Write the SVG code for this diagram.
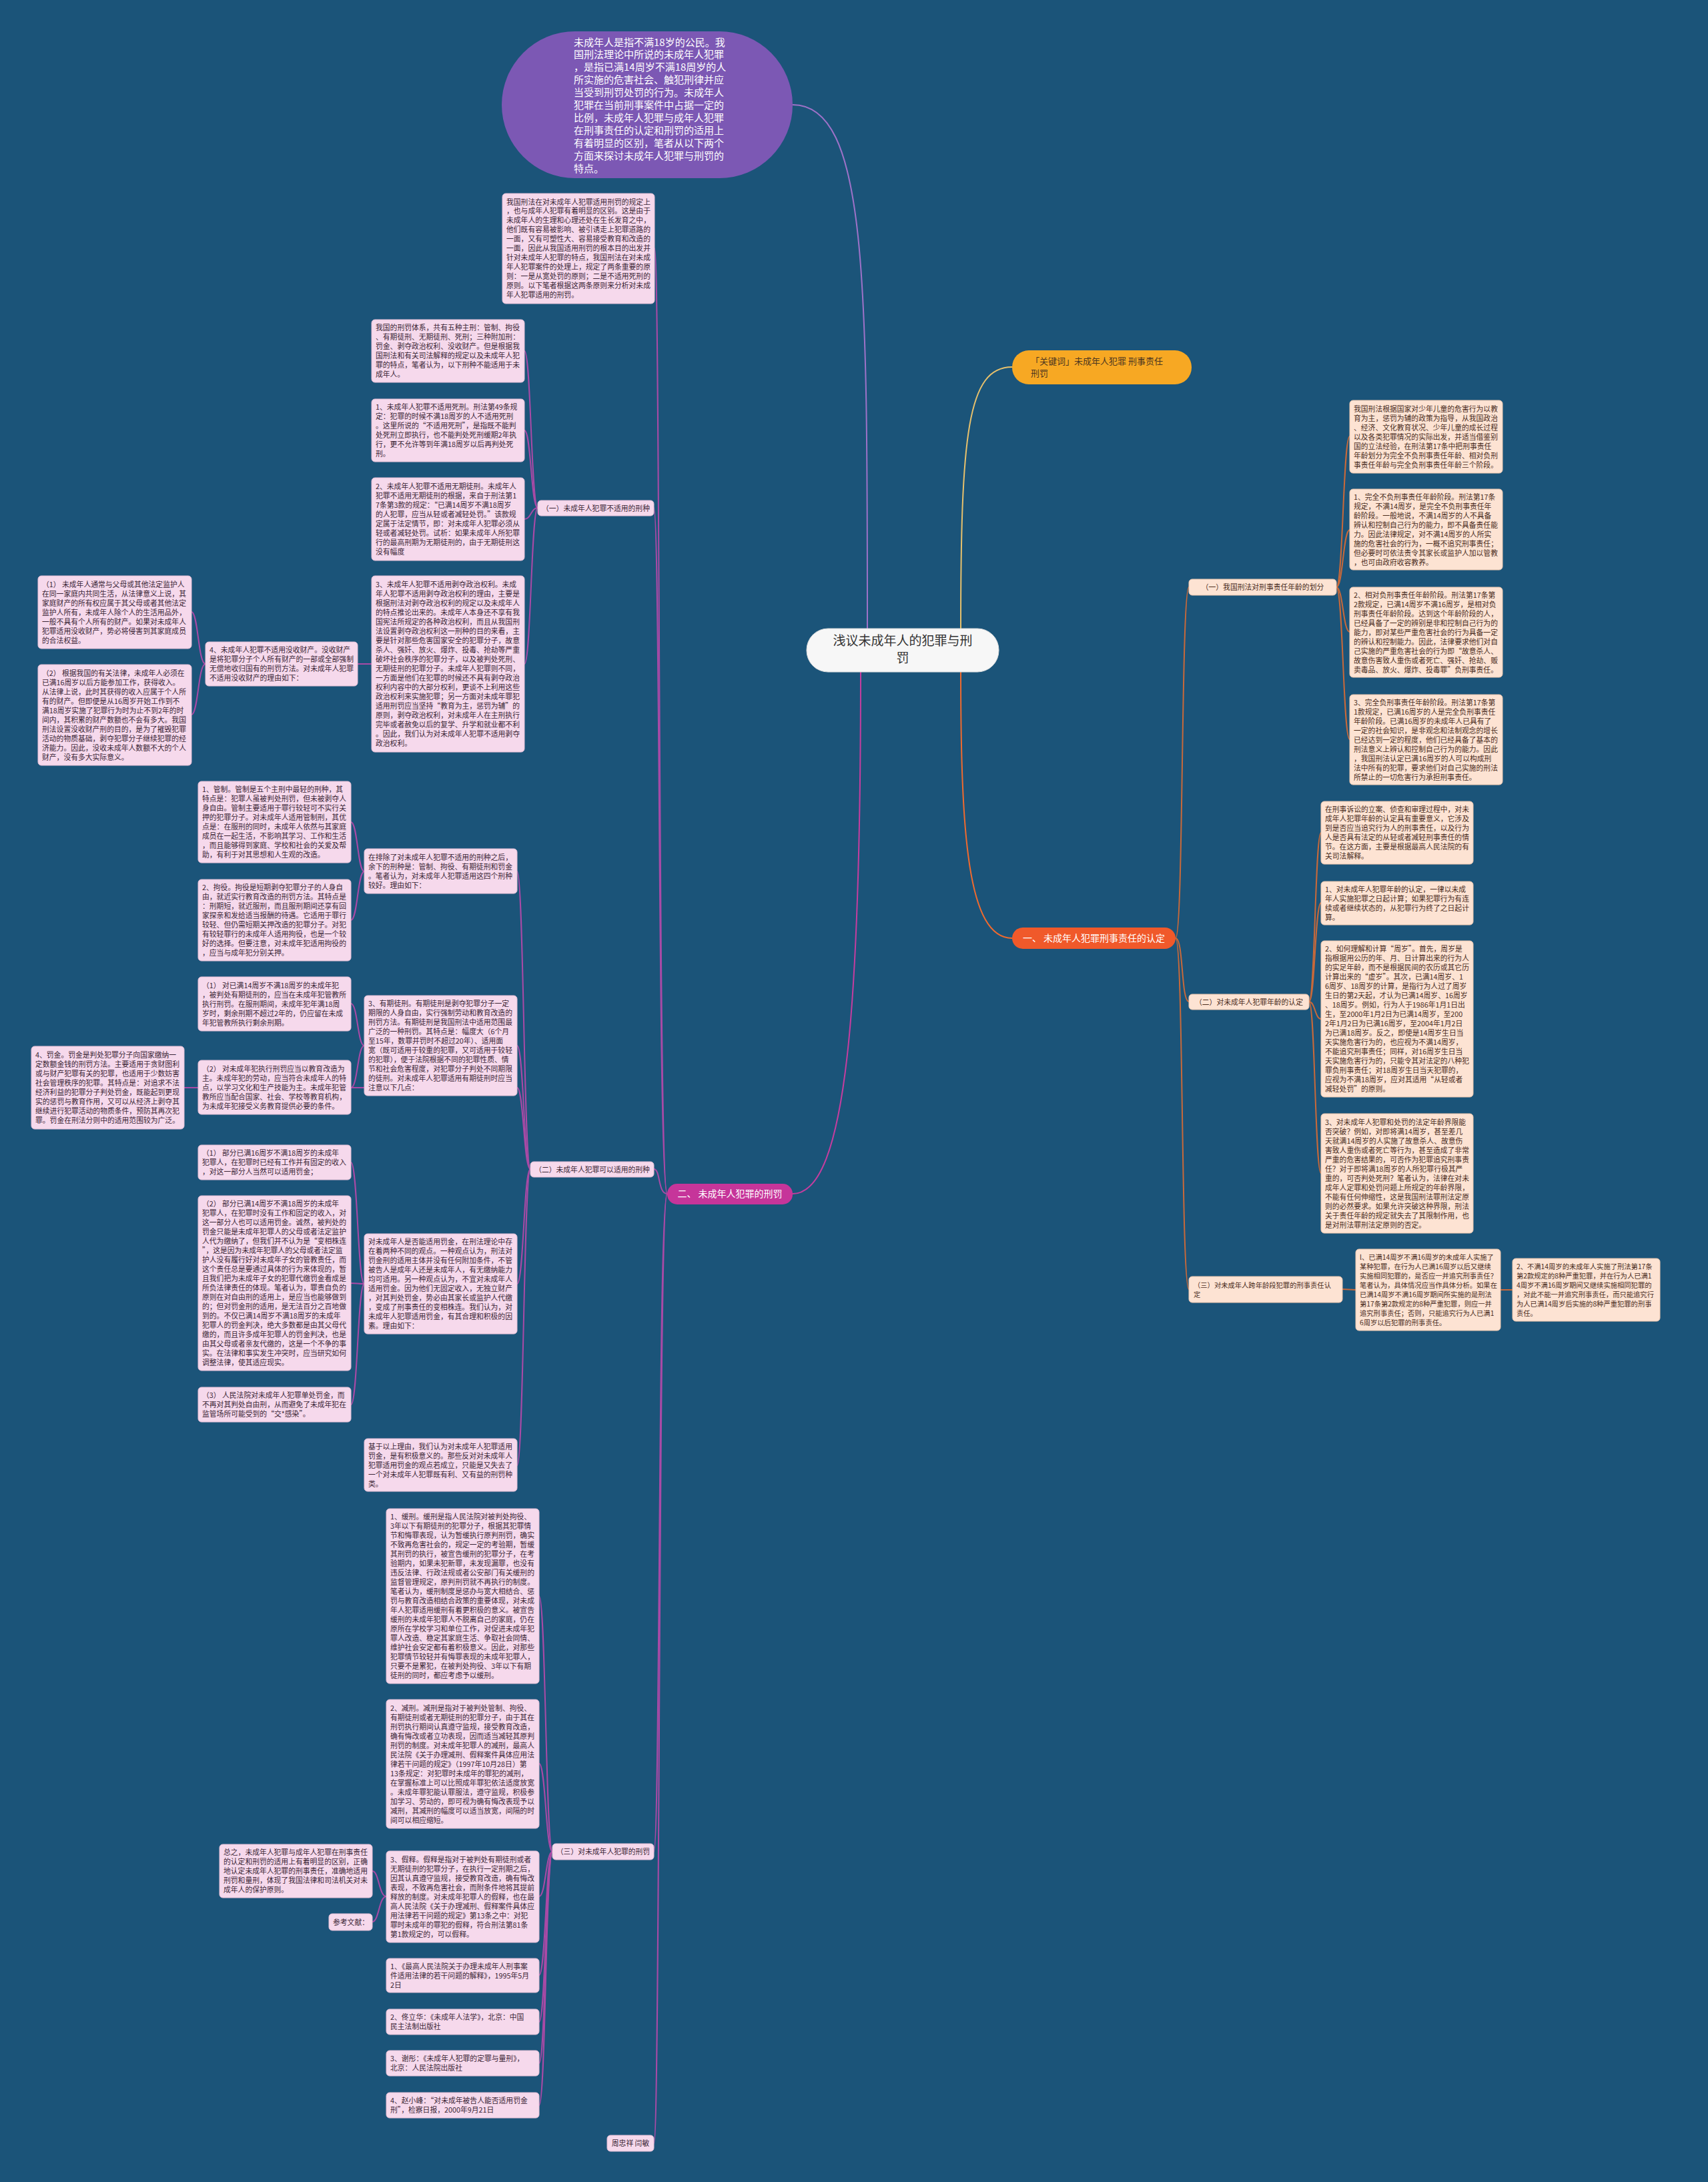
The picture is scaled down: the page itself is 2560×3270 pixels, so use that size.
<svg xmlns="http://www.w3.org/2000/svg" width="2560" height="3270" viewBox="0 0 2560 3270">
<style>
.t{font-family:"Noto Sans CJK SC","Liberation Sans",sans-serif;font-size:10.8px;fill:#3b2636}
.tr{font-family:"Noto Sans CJK SC","Liberation Sans",sans-serif;font-size:10.8px;fill:#4a2c1c}
.ts{font-size:10.3px}
.pk{fill:#f6d9ec;stroke:#e4bfd6;stroke-width:1}
.pc{fill:#fde3d3;stroke:#ecc6ae;stroke-width:1}
.cl{fill:none;stroke:#a94aa6;stroke-width:2}
.cr{fill:none;stroke:#c8693a;stroke-width:2}
</style>
<rect x="0" y="0" width="2560" height="3270" fill="#1b5479"/>
<g id="connectors">
<path d="M1300,945 C1300,420 1300,157 1188,157" fill="none" stroke="#9e72c8" stroke-width="2"/>
<path d="M1440,945 C1440,650 1450,550 1517,550" fill="none" stroke="#e8c16c" stroke-width="2"/>
<path d="M1440,1005 C1440,1250 1450,1406 1517,1406" fill="none" stroke="#f06a2e" stroke-width="2"/>
<path d="M1290,1005 C1290,1500 1270,1789 1188,1789" fill="none" stroke="#c63d9f" stroke-width="2"/>
<path class="cl" d="M1000,1789 C986,1789 990,372 981,372"/>
<path class="cl" d="M1000,1789 C986,1789 990,761 980,761"/>
<path class="cl" d="M1000,1789 C986,1789 990,1752 980,1752"/>
<path class="cl" d="M1000,1789 C986,1789 990,2775 980,2775"/>
<path class="cl" d="M1000,1789 C986,1789 990,3212 980,3212"/>
<path class="cl" d="M806,761 C796,761 796,526 786,526"/>
<path class="cl" d="M806,761 C796,761 796,645 786,645"/>
<path class="cl" d="M806,761 C796,761 796,778 786,778"/>
<path class="cl" d="M806,761 C796,761 796,995 786,995 L536,995"/>
<path class="cl" d="M308,995 C297,995 297,917 287,917"/>
<path class="cl" d="M308,995 C297,995 297,1071 287,1071"/>
<path class="cl" d="M795,1752 C785,1752 785,1306 775,1306"/>
<path class="cl" d="M795,1752 C785,1752 785,1567 775,1567"/>
<path class="cl" d="M795,1752 C785,1752 785,1630 775,1630 L276,1630"/>
<path class="cl" d="M795,1752 C785,1752 785,1924 775,1924"/>
<path class="cl" d="M795,1752 C785,1752 785,2196 775,2196"/>
<path class="cl" d="M546,1306 C536,1306 536,1232 526,1232"/>
<path class="cl" d="M546,1306 C536,1306 536,1379 526,1379"/>
<path class="cl" d="M546,1567 C536,1567 536,1504 526,1504"/>
<path class="cl" d="M546,1567 C536,1567 536,1630 526,1630"/>
<path class="cl" d="M546,1924 C536,1924 536,1742 526,1742"/>
<path class="cl" d="M546,1924 C536,1924 536,1923 526,1923"/>
<path class="cl" d="M546,1924 C536,1924 536,2105 526,2105"/>
<path class="cl" d="M828,2775 C818,2775 818,2392 808,2392"/>
<path class="cl" d="M828,2775 C818,2775 818,2643 808,2643"/>
<path class="cl" d="M828,2775 C818,2775 818,2842 808,2842"/>
<path class="cl" d="M828,2775 C818,2775 818,2960 808,2960"/>
<path class="cl" d="M828,2775 C818,2775 818,3030 808,3030"/>
<path class="cl" d="M828,2775 C818,2775 818,3092 808,3092"/>
<path class="cl" d="M828,2775 C818,2775 818,3155 808,3155"/>
<path class="cl" d="M579,2842 C568,2842 568,2804 558,2804"/>
<path class="cl" d="M579,2842 C568,2842 568,2880 558,2880"/>
<path class="cr" d="M1762,1406 C1774,1406 1770,880 1782,880" stroke="#ef6a2c"/>
<path class="cr" d="M1762,1406 C1774,1406 1770,1501 1782,1501" stroke="#ef6a2c"/>
<path class="cr" d="M1762,1406 C1774,1406 1770,1932 1782,1932" stroke="#ef6a2c"/>
<path class="cr" d="M2003,880 C2013,880 2013,654 2023,654"/>
<path class="cr" d="M2003,880 C2013,880 2013,794 2023,794"/>
<path class="cr" d="M2003,880 C2013,880 2013,947 2023,947"/>
<path class="cr" d="M2003,880 C2013,880 2013,1108 2023,1108"/>
<path class="cr" d="M1962,1501 C1971,1501 1971,1248 1980,1248"/>
<path class="cr" d="M1962,1501 C1971,1501 1971,1353 1980,1353"/>
<path class="cr" d="M1962,1501 C1971,1501 1971,1527 1980,1527"/>
<path class="cr" d="M1962,1501 C1971,1501 1971,1758 1980,1758"/>
<path class="cr" d="M2012,1932 L2032,1933"/>
<path class="cr" d="M2249,1933 L2267,1933"/>
</g>

<g id="center">
<rect x="1209" y="942" width="288" height="65" rx="32" fill="#f7f7f7" stroke="#dddddd"/>
<text x="1353" y="967" text-anchor="middle" font-family="Noto Sans CJK SC,sans-serif" font-size="19" fill="#333"><tspan x="1353">浅议未成年人的犯罪与刑</tspan><tspan x="1353" dy="26">罚</tspan></text>
</g>

<g id="intro-purple">
<rect x="752" y="47" width="436" height="220" rx="110" fill="#7c58b4"/>
<text x="860" y="68.5" font-family="Noto Sans CJK SC,sans-serif" font-size="15" fill="#ffffff"><tspan x="860">未成年人是指不满18岁的公民。我</tspan><tspan x="860" dy="18.9">国刑法理论中所说的未成年人犯罪</tspan><tspan x="860" dy="18.9">，是指已满14周岁不满18周岁的人</tspan><tspan x="860" dy="18.9">所实施的危害社会、触犯刑律并应</tspan><tspan x="860" dy="18.9">当受到刑罚处罚的行为。未成年人</tspan><tspan x="860" dy="18.9">犯罪在当前刑事案件中占据一定的</tspan><tspan x="860" dy="18.9">比例，未成年人犯罪与成年人犯罪</tspan><tspan x="860" dy="18.9">在刑事责任的认定和刑罚的适用上</tspan><tspan x="860" dy="18.9">有着明显的区别，笔者从以下两个</tspan><tspan x="860" dy="18.9">方面来探讨未成年人犯罪与刑罚的</tspan><tspan x="860" dy="18.9">特点。</tspan></text>
</g>

<g id="keyword">
<rect x="1517" y="525" width="269" height="51" rx="25" fill="#f7a823"/>
<text x="1545" y="546" font-family="Noto Sans CJK SC,sans-serif" font-size="13" fill="#4a3520"><tspan x="1545">「关键词」未成年人犯罪 刑事责任</tspan><tspan x="1545" dy="18">刑罚</tspan></text>
</g>

<g id="branch1">
<rect x="1517" y="1390" width="245" height="32" rx="16" fill="#f0592a"/>
<text x="1639.5" y="1411" text-anchor="middle" font-family="Noto Sans CJK SC,sans-serif" font-size="14" fill="#ffffff">一、 未成年人犯罪刑事责任的认定</text>
</g>

<g id="branch2">
<rect x="1000" y="1774" width="188" height="31" rx="15" fill="#c6359a"/>
<text x="1094" y="1794" text-anchor="middle" font-family="Noto Sans CJK SC,sans-serif" font-size="14" fill="#ffffff">二、 未成年人犯罪的刑罚</text>
</g>

<g id="r-label1"><rect class="pc" x="1782" y="868" width="221" height="24" rx="5"/><text class="tr" x="1892.5" y="884" text-anchor="middle">（一）我国刑法对刑事责任年龄的划分</text></g>
<g id="r-label2"><rect class="pc" x="1782" y="1490" width="180" height="23" rx="5"/><text class="tr" x="1872" y="1505.5" text-anchor="middle">（二）对未成年人犯罪年龄的认定</text></g>
<g id="r-label3"><rect class="pc" x="1782" y="1913" width="230" height="39" rx="5"/><text class="tr ts" x="1789" y="1929.5"><tspan x="1789">（三）对未成年人跨年龄段犯罪的刑事责任认</tspan><tspan x="1789" dy="14">定</tspan></text></g>

<g id="p0"><rect class="pc" x="2023" y="600" width="229" height="109" rx="5"/><text class="tr" x="2029" y="616.5"><tspan x="2029">我国刑法根据国家对少年儿童的危害行为以教</tspan><tspan x="2029" dy="14">育为主，惩罚为辅的政策为指导，从我国政治</tspan><tspan x="2029" dy="14">、经济、文化教育状况、少年儿童的成长过程</tspan><tspan x="2029" dy="14">以及各类犯罪情况的实际出发，并适当借鉴别</tspan><tspan x="2029" dy="14">国的立法经验，在刑法第17条中把刑事责任</tspan><tspan x="2029" dy="14">年龄划分为完全不负刑事责任年龄、相对负刑</tspan><tspan x="2029" dy="14">事责任年龄与完全负刑事责任年龄三个阶段。</tspan></text></g>
<g id="p1"><rect class="pc" x="2023" y="733" width="229" height="121" rx="5"/><text class="tr" x="2029" y="748.5"><tspan x="2029">1、完全不负刑事责任年龄阶段。刑法第17条</tspan><tspan x="2029" dy="14">规定，不满14周岁，是完全不负刑事责任年</tspan><tspan x="2029" dy="14">龄阶段。一般地说，不满14周岁的人不具备</tspan><tspan x="2029" dy="14">辨认和控制自己行为的能力，即不具备责任能</tspan><tspan x="2029" dy="14">力。因此法律规定，对不满14周岁的人所实</tspan><tspan x="2029" dy="14">施的危害社会的行为，一概不追究刑事责任；</tspan><tspan x="2029" dy="14">但必要时可依法责令其家长或监护人加以管教</tspan><tspan x="2029" dy="14">，也可由政府收容教养。</tspan></text></g>
<g id="p2"><rect class="pc" x="2023" y="880" width="229" height="135" rx="5"/><text class="tr" x="2029" y="895.5"><tspan x="2029">2、相对负刑事责任年龄阶段。刑法第17条第</tspan><tspan x="2029" dy="14">2款规定，已满14周岁不满16周岁，是相对负</tspan><tspan x="2029" dy="14">刑事责任年龄阶段。达到这个年龄阶段的人，</tspan><tspan x="2029" dy="14">已经具备了一定的辨别是非和控制自己行为的</tspan><tspan x="2029" dy="14">能力，即对某些严重危害社会的行为具备一定</tspan><tspan x="2029" dy="14">的辨认和控制能力。因此，法律要求他们对自</tspan><tspan x="2029" dy="14">己实施的严重危害社会的行为即“故意杀人、</tspan><tspan x="2029" dy="14">故意伤害致人重伤或者死亡、强奸、抢劫、贩</tspan><tspan x="2029" dy="14">卖毒品、放火、爆炸、投毒罪”负刑事责任。</tspan></text></g>
<g id="p3"><rect class="pc" x="2023" y="1041" width="229" height="135" rx="5"/><text class="tr" x="2029" y="1056.5"><tspan x="2029">3、完全负刑事责任年龄阶段。刑法第17条第</tspan><tspan x="2029" dy="14">1款规定，已满16周岁的人是完全负刑事责任</tspan><tspan x="2029" dy="14">年龄阶段。已满16周岁的未成年人已具有了</tspan><tspan x="2029" dy="14">一定的社会知识，是非观念和法制观念的增长</tspan><tspan x="2029" dy="14">已经达到一定的程度，他们已经具备了基本的</tspan><tspan x="2029" dy="14">刑法意义上辨认和控制自己行为的能力。因此</tspan><tspan x="2029" dy="14">，我国刑法认定已满16周岁的人可以构成刑</tspan><tspan x="2029" dy="14">法中所有的犯罪，要求他们对自己实施的刑法</tspan><tspan x="2029" dy="14">所禁止的一切危害行为承担刑事责任。</tspan></text></g>

<g id="q0"><rect class="pc" x="1980" y="1201" width="228" height="94" rx="5"/><text class="tr" x="1986" y="1217"><tspan x="1986">在刑事诉讼的立案、侦查和审理过程中，对未</tspan><tspan x="1986" dy="14">成年人犯罪年龄的认定具有重要意义，它涉及</tspan><tspan x="1986" dy="14">到是否应当追究行为人的刑事责任，以及行为</tspan><tspan x="1986" dy="14">人是否具有法定的从轻或者减轻刑事责任的情</tspan><tspan x="1986" dy="14">节。在这方面，主要是根据最高人民法院的有</tspan><tspan x="1986" dy="14">关司法解释。</tspan></text></g>
<g id="q1"><rect class="pc" x="1980" y="1321" width="228" height="65" rx="5"/><text class="tr" x="1986" y="1336.5"><tspan x="1986">1、对未成年人犯罪年龄的认定，一律以未成</tspan><tspan x="1986" dy="14">年人实施犯罪之日起计算；如果犯罪行为有连</tspan><tspan x="1986" dy="14">续或者继续状态的，从犯罪行为终了之日起计</tspan><tspan x="1986" dy="14">算。</tspan></text></g>
<g id="q2"><rect class="pc" x="1980" y="1410" width="228" height="234" rx="5"/><text class="tr" x="1986" y="1426"><tspan x="1986">2、如何理解和计算“周岁”。首先，周岁是</tspan><tspan x="1986" dy="14">指根据用公历的年、月、日计算出来的行为人</tspan><tspan x="1986" dy="14">的实足年龄，而不是根据民间的农历或其它历</tspan><tspan x="1986" dy="14">计算出来的“虚岁”。其次，已满14周岁、1</tspan><tspan x="1986" dy="14">6周岁、18周岁的计算，是指行为人过了周岁</tspan><tspan x="1986" dy="14">生日的第2天起，才认为已满14周岁、16周岁</tspan><tspan x="1986" dy="14">、18周岁。例如，行为人于1986年1月1日出</tspan><tspan x="1986" dy="14">生，至2000年1月2日为已满14周岁，至200</tspan><tspan x="1986" dy="14">2年1月2日为已满16周岁，至2004年1月2日</tspan><tspan x="1986" dy="14">为已满18周岁。反之，即使是14周岁生日当</tspan><tspan x="1986" dy="14">天实施危害行为的，也应视为不满14周岁，</tspan><tspan x="1986" dy="14">不能追究刑事责任；同样，对16周岁生日当</tspan><tspan x="1986" dy="14">天实施危害行为的，只能令其对法定的八种犯</tspan><tspan x="1986" dy="14">罪负刑事责任；对18周岁生日当天犯罪的，</tspan><tspan x="1986" dy="14">应视为不满18周岁，应对其适用“从轻或者</tspan><tspan x="1986" dy="14">减轻处罚”的原则。</tspan></text></g>
<g id="q3"><rect class="pc" x="1980" y="1669" width="228" height="179" rx="5"/><text class="tr" x="1986" y="1685.5"><tspan x="1986">3、对未成年人犯罪和处罚的法定年龄界限能</tspan><tspan x="1986" dy="14">否突破？例如，对即将满14周岁，甚至差几</tspan><tspan x="1986" dy="14">天就满14周岁的人实施了故意杀人、故意伤</tspan><tspan x="1986" dy="14">害致人重伤或者死亡等行为，甚至造成了非常</tspan><tspan x="1986" dy="14">严重的危害结果的，可否作为犯罪追究刑事责</tspan><tspan x="1986" dy="14">任？对于即将满18周岁的人所犯罪行极其严</tspan><tspan x="1986" dy="14">重的，可否判处死刑？笔者认为，法律在对未</tspan><tspan x="1986" dy="14">成年人定罪和处罚问题上所规定的年龄界限，</tspan><tspan x="1986" dy="14">不能有任何伸缩性，这是我国刑法罪刑法定原</tspan><tspan x="1986" dy="14">则的必然要求。如果允许突破这种界限，刑法</tspan><tspan x="1986" dy="14">关于责任年龄的规定就失去了其限制作用，也</tspan><tspan x="1986" dy="14">是对刑法罪刑法定原则的否定。</tspan></text></g>

<g id="r1"><rect class="pc" x="2032" y="1872" width="217" height="122" rx="5"/><text class="tr ts" x="2038" y="1888"><tspan x="2038">l、已满14周岁不满16周岁的未成年人实施了</tspan><tspan x="2038" dy="14">某种犯罪，在行为人已满16周岁以后又继续</tspan><tspan x="2038" dy="14">实施相同犯罪的，是否应一并追究刑事责任？</tspan><tspan x="2038" dy="14">笔者认为，具体情况应当作具体分析。如果在</tspan><tspan x="2038" dy="14">已满14周岁不满16周岁期间所实施的是刑法</tspan><tspan x="2038" dy="14">第17条第2款规定的8种严重犯罪，则应一并</tspan><tspan x="2038" dy="14">追究刑事责任；否则，只能追究行为人已满1</tspan><tspan x="2038" dy="14">6周岁以后犯罪的刑事责任。</tspan></text></g>
<g id="r2"><rect class="pc" x="2267" y="1886" width="221" height="94" rx="5"/><text class="tr ts" x="2273" y="1902"><tspan x="2273">2、不满14周岁的未成年人实施了刑法第17条</tspan><tspan x="2273" dy="14">第2款规定的8种严重犯罪，并在行为人已满1</tspan><tspan x="2273" dy="14">4周岁不满16周岁期间又继续实施相同犯罪的</tspan><tspan x="2273" dy="14">，对此不能一并追究刑事责任，而只能追究行</tspan><tspan x="2273" dy="14">为人已满14周岁后实施的8种严重犯罪的刑事</tspan><tspan x="2273" dy="14">责任。</tspan></text></g>

<g id="intro"><rect class="pk" x="753" y="290" width="228" height="165" rx="5"/><text class="t" x="759" y="306.5"><tspan x="759">我国刑法在对未成年人犯罪适用刑罚的规定上</tspan><tspan x="759" dy="13.9">，也与成年人犯罪有着明显的区别。这是由于</tspan><tspan x="759" dy="13.9">未成年人的生理和心理还处在生长发育之中，</tspan><tspan x="759" dy="13.9">他们既有容易被影响、被引诱走上犯罪道路的</tspan><tspan x="759" dy="13.9">一面，又有可塑性大、容易接受教育和改造的</tspan><tspan x="759" dy="13.9">一面，因此从我国适用刑罚的根本目的出发并</tspan><tspan x="759" dy="13.9">针对未成年人犯罪的特点，我国刑法在对未成</tspan><tspan x="759" dy="13.9">年人犯罪案件的处理上，规定了两条重要的原</tspan><tspan x="759" dy="13.9">则：一是从宽处罚的原则；二是不适用死刑的</tspan><tspan x="759" dy="13.9">原则。以下笔者根据这两条原则来分析对未成</tspan><tspan x="759" dy="13.9">年人犯罪适用的刑罚。</tspan></text></g>

<g id="l-label1"><rect class="pk" x="806" y="750" width="174" height="23" rx="5"/><text class="t" x="893" y="765.5" text-anchor="middle">（一）未成年人犯罪不适用的刑种</text></g>
<g id="l-label2"><rect class="pk" x="795" y="1741" width="185" height="23" rx="5"/><text class="t" x="887.5" y="1756.5" text-anchor="middle">（二）未成年人犯罪可以适用的刑种</text></g>
<g id="l-label3"><rect class="pk" x="828" y="2763" width="152" height="24" rx="5"/><text class="t" x="904" y="2779" text-anchor="middle">（三）对未成年人犯罪的刑罚</text></g>
<g id="author"><rect class="pk" x="910" y="3200" width="70" height="24" rx="5"/><text class="t" x="945" y="3216" text-anchor="middle">周忠祥 闫敏</text></g>

<g id="a0"><rect class="pk" x="557" y="479" width="229" height="94" rx="5"/><text class="t" x="563" y="495"><tspan x="563">我国的刑罚体系，共有五种主刑：管制、拘役</tspan><tspan x="563" dy="14">、有期徒刑、无期徒刑、死刑；三种附加刑：</tspan><tspan x="563" dy="14">罚金、剥夺政治权利、没收财产。但是根据我</tspan><tspan x="563" dy="14">国刑法和有关司法解释的规定以及未成年人犯</tspan><tspan x="563" dy="14">罪的特点，笔者认为，以下刑种不能适用于未</tspan><tspan x="563" dy="14">成年人。</tspan></text></g>
<g id="a1"><rect class="pk" x="557" y="598" width="229" height="94" rx="5"/><text class="t" x="563" y="614"><tspan x="563">1、未成年人犯罪不适用死刑。刑法第49条规</tspan><tspan x="563" dy="14">定：犯罪的时候不满18周岁的人不适用死刑</tspan><tspan x="563" dy="14">。这里所说的“不适用死刑”，是指既不能判</tspan><tspan x="563" dy="14">处死刑立即执行，也不能判处死刑缓期2年执</tspan><tspan x="563" dy="14">行，更不允许等到年满18周岁以后再判处死</tspan><tspan x="563" dy="14">刑。</tspan></text></g>
<g id="a2"><rect class="pk" x="557" y="716" width="229" height="124" rx="5"/><text class="t" x="563" y="733"><tspan x="563">2、未成年人犯罪不适用无期徒刑。未成年人</tspan><tspan x="563" dy="14">犯罪不适用无期徒刑的根据，来自于刑法第1</tspan><tspan x="563" dy="14">7条第3款的规定：“已满14周岁不满18周岁</tspan><tspan x="563" dy="14">的人犯罪，应当从轻或者减轻处罚。”该款规</tspan><tspan x="563" dy="14">定属于法定情节，即：对未成年人犯罪必须从</tspan><tspan x="563" dy="14">轻或者减轻处罚。试析：如果未成年人所犯罪</tspan><tspan x="563" dy="14">行的最高刑期为无期徒刑的，由于无期徒刑这</tspan><tspan x="563" dy="14">没有幅度</tspan></text></g>
<g id="a3"><rect class="pk" x="557" y="863" width="229" height="264" rx="5"/><text class="t" x="563" y="880"><tspan x="563">3、未成年人犯罪不适用剥夺政治权利。未成</tspan><tspan x="563" dy="14">年人犯罪不适用剥夺政治权利的理由，主要是</tspan><tspan x="563" dy="14">根据刑法对剥夺政治权利的规定以及未成年人</tspan><tspan x="563" dy="14">的特点推论出来的。未成年人本身还不享有我</tspan><tspan x="563" dy="14">国宪法所规定的各种政治权利，而且从我国刑</tspan><tspan x="563" dy="14">法设置剥夺政治权利这一刑种的目的来看，主</tspan><tspan x="563" dy="14">要是针对那些危害国家安全的犯罪分子，故意</tspan><tspan x="563" dy="14">杀人、强奸、放火、爆炸、投毒、抢劫等严重</tspan><tspan x="563" dy="14">破坏社会秩序的犯罪分子，以及被判处死刑、</tspan><tspan x="563" dy="14">无期徒刑的犯罪分子。未成年人犯罪则不同，</tspan><tspan x="563" dy="14">一方面是他们在犯罪的时候还不具有剥夺政治</tspan><tspan x="563" dy="14">权利内容中的大部分权利，更谈不上利用这些</tspan><tspan x="563" dy="14">政治权利来实施犯罪；另一方面对未成年罪犯</tspan><tspan x="563" dy="14">适用刑罚应当坚持“教育为主，惩罚为辅”的</tspan><tspan x="563" dy="14">原则，剥夺政治权利，对未成年人在主刑执行</tspan><tspan x="563" dy="14">完毕或者赦免以后的复学、升学和就业都不利</tspan><tspan x="563" dy="14">。因此，我们认为对未成年人犯罪不适用剥夺</tspan><tspan x="563" dy="14">政治权利。</tspan></text></g>
<g id="a4"><rect class="pk" x="308" y="962" width="228" height="66" rx="5"/><text class="t" x="314" y="978"><tspan x="314">4、未成年人犯罪不适用没收财产。没收财产</tspan><tspan x="314" dy="14">是将犯罪分子个人所有财产的一部或全部强制</tspan><tspan x="314" dy="14">无偿地收归国有的刑罚方法。对未成年人犯罪</tspan><tspan x="314" dy="14">不适用没收财产的理由如下：</tspan></text></g>
<g id="a4-1"><rect class="pk" x="57" y="863" width="230" height="109" rx="5"/><text class="t" x="63" y="879.5"><tspan x="63">（1） 未成年人通常与父母或其他法定监护人</tspan><tspan x="63" dy="14">在同一家庭内共同生活，从法律意义上说，其</tspan><tspan x="63" dy="14">家庭财产的所有权应属于其父母或者其他法定</tspan><tspan x="63" dy="14">监护人所有，未成年人除个人的生活用品外，</tspan><tspan x="63" dy="14">一般不具有个人所有的财产。如果对未成年人</tspan><tspan x="63" dy="14">犯罪适用没收财产，势必将侵害到其家庭成员</tspan><tspan x="63" dy="14">的合法权益。</tspan></text></g>
<g id="a4-2"><rect class="pk" x="57" y="996" width="230" height="151" rx="5"/><text class="t" x="63" y="1012.5"><tspan x="63">（2） 根据我国的有关法律，未成年人必须在</tspan><tspan x="63" dy="14">已满16周岁以后方能参加工作，获得收入。</tspan><tspan x="63" dy="14">从法律上说，此时其获得的收入应属于个人所</tspan><tspan x="63" dy="14">有的财产。但即便是从16周岁开始工作到不</tspan><tspan x="63" dy="14">满18周岁实施了犯罪行为时为止不到2年的时</tspan><tspan x="63" dy="14">间内，其积累的财产数额也不会有多大。我国</tspan><tspan x="63" dy="14">刑法设置没收财产刑的目的，是为了摧毁犯罪</tspan><tspan x="63" dy="14">活动的物质基础，剥夺犯罪分子继续犯罪的经</tspan><tspan x="63" dy="14">济能力。因此，没收未成年人数额不大的个人</tspan><tspan x="63" dy="14">财产，没有多大实际意义。</tspan></text></g>

<g id="b0"><rect class="pk" x="546" y="1272" width="229" height="67" rx="5"/><text class="t" x="552" y="1288.5"><tspan x="552">在排除了对未成年人犯罪不适用的刑种之后，</tspan><tspan x="552" dy="14">余下的刑种是：管制、拘役、有期徒刑和罚金</tspan><tspan x="552" dy="14">。笔者认为，对未成年人犯罪适用这四个刑种</tspan><tspan x="552" dy="14">较好。理由如下：</tspan></text></g>
<g id="b1"><rect class="pk" x="297" y="1171" width="229" height="122" rx="5"/><text class="t" x="303" y="1187"><tspan x="303">1、管制。管制是五个主刑中最轻的刑种，其</tspan><tspan x="303" dy="14">特点是：犯罪人虽被判处刑罚，但未被剥夺人</tspan><tspan x="303" dy="14">身自由。管制主要适用于罪行较轻可不实行关</tspan><tspan x="303" dy="14">押的犯罪分子。对未成年人适用管制刑，其优</tspan><tspan x="303" dy="14">点是：在服刑的同时，未成年人依然与其家庭</tspan><tspan x="303" dy="14">成员在一起生活，不影响其学习、工作和生活</tspan><tspan x="303" dy="14">，而且能够得到家庭、学校和社会的关爱及帮</tspan><tspan x="303" dy="14">助，有利于对其思想和人生观的改造。</tspan></text></g>
<g id="b2"><rect class="pk" x="297" y="1318" width="229" height="122" rx="5"/><text class="t" x="303" y="1334"><tspan x="303">2、拘役。拘役是短期剥夺犯罪分子的人身自</tspan><tspan x="303" dy="14">由，就近实行教育改造的刑罚方法。其特点是</tspan><tspan x="303" dy="14">：刑期短，就近服刑，而且服刑期间还享有回</tspan><tspan x="303" dy="14">家探亲和发给适当报酬的待遇。它适用于罪行</tspan><tspan x="303" dy="14">较轻、但仍需短期关押改造的犯罪分子。对犯</tspan><tspan x="303" dy="14">有较轻罪行的未成年人适用拘役，也是一个较</tspan><tspan x="303" dy="14">好的选择。但要注意，对未成年犯适用拘役的</tspan><tspan x="303" dy="14">，应当与成年犯分别关押。</tspan></text></g>
<g id="b3"><rect class="pk" x="546" y="1492" width="229" height="150" rx="5"/><text class="t" x="552" y="1508"><tspan x="552">3、有期徒刑。有期徒刑是剥夺犯罪分子一定</tspan><tspan x="552" dy="14">期限的人身自由，实行强制劳动和教育改造的</tspan><tspan x="552" dy="14">刑罚方法。有期徒刑是我国刑法中适用范围最</tspan><tspan x="552" dy="14">广泛的一种刑罚。其特点是：幅度大（6个月</tspan><tspan x="552" dy="14">至15年，数罪并罚时不超过20年）、适用面</tspan><tspan x="552" dy="14">宽（既可适用于较重的犯罪，又可适用于较轻</tspan><tspan x="552" dy="14">的犯罪），便于法院根据不同的犯罪性质、情</tspan><tspan x="552" dy="14">节和社会危害程度，对犯罪分子判处不同期限</tspan><tspan x="552" dy="14">的徒刑。对未成年人犯罪适用有期徒刑时应当</tspan><tspan x="552" dy="14">注意以下几点：</tspan></text></g>
<g id="b3-1"><rect class="pk" x="297" y="1464" width="229" height="81" rx="5"/><text class="t" x="303" y="1480.5"><tspan x="303">（1） 对已满14周岁不满18周岁的未成年犯</tspan><tspan x="303" dy="14">，被判处有期徒刑的，应当在未成年犯管教所</tspan><tspan x="303" dy="14">执行刑罚。在服刑期间，未成年犯年满18周</tspan><tspan x="303" dy="14">岁时，剩余刑期不超过2年的，仍应留在未成</tspan><tspan x="303" dy="14">年犯管教所执行剩余刑期。</tspan></text></g>
<g id="b3-2"><rect class="pk" x="297" y="1589" width="229" height="81" rx="5"/><text class="t" x="303" y="1605.5"><tspan x="303">（2） 对未成年犯执行刑罚应当以教育改造为</tspan><tspan x="303" dy="14">主。未成年犯的劳动，应当符合未成年人的特</tspan><tspan x="303" dy="14">点，以学习文化和生产技能为主。未成年犯管</tspan><tspan x="303" dy="14">教所应当配合国家、社会、学校等教育机构，</tspan><tspan x="303" dy="14">为未成年犯接受义务教育提供必要的条件。</tspan></text></g>
<g id="b4"><rect class="pk" x="47" y="1568" width="229" height="124" rx="5"/><text class="t" x="53" y="1585"><tspan x="53">4、罚金。罚金是判处犯罪分子向国家缴纳一</tspan><tspan x="53" dy="14">定数额金钱的刑罚方法。主要适用于贪财图利</tspan><tspan x="53" dy="14">或与财产犯罪有关的犯罪，也适用于少数妨害</tspan><tspan x="53" dy="14">社会管理秩序的犯罪。其特点是：对追求不法</tspan><tspan x="53" dy="14">经济利益的犯罪分子判处罚金，既能起到更现</tspan><tspan x="53" dy="14">实的惩罚与教育作用，又可以从经济上剥夺其</tspan><tspan x="53" dy="14">继续进行犯罪活动的物质条件，预防其再次犯</tspan><tspan x="53" dy="14">罪。罚金在刑法分则中的适用范围较为广泛。</tspan></text></g>
<g id="b5"><rect class="pk" x="546" y="1849" width="229" height="150" rx="5"/><text class="t" x="552" y="1865"><tspan x="552">对未成年人是否能适用罚金，在刑法理论中存</tspan><tspan x="552" dy="14">在着两种不同的观点。一种观点认为，刑法对</tspan><tspan x="552" dy="14">罚金刑的适用主体并没有任何附加条件，不管</tspan><tspan x="552" dy="14">被告人是成年人还是未成年人，有无缴纳能力</tspan><tspan x="552" dy="14">均可适用。另一种观点认为，不宜对未成年人</tspan><tspan x="552" dy="14">适用罚金。因为他们无固定收入，无独立财产</tspan><tspan x="552" dy="14">，对其判处罚金，势必由其家长或监护人代缴</tspan><tspan x="552" dy="14">，变成了刑事责任的变相株连。我们认为，对</tspan><tspan x="552" dy="14">未成年人犯罪适用罚金，有其合理和积极的因</tspan><tspan x="552" dy="14">素。理由如下：</tspan></text></g>
<g id="b5-1"><rect class="pk" x="297" y="1716" width="229" height="52" rx="5"/><text class="t" x="303" y="1732"><tspan x="303">（1） 部分已满16周岁不满18周岁的未成年</tspan><tspan x="303" dy="14">犯罪人，在犯罪时已经有工作并有固定的收入</tspan><tspan x="303" dy="14">，对这一部分人当然可以适用罚金；</tspan></text></g>
<g id="b5-2"><rect class="pk" x="297" y="1792" width="229" height="262" rx="5"/><text class="t" x="303" y="1808"><tspan x="303">（2） 部分已满14周岁不满18周岁的未成年</tspan><tspan x="303" dy="14">犯罪人，在犯罪时没有工作和固定的收入，对</tspan><tspan x="303" dy="14">这一部分人也可以适用罚金。诚然，被判处的</tspan><tspan x="303" dy="14">罚金只能是未成年犯罪人的父母或者法定监护</tspan><tspan x="303" dy="14">人代为缴纳了，但我们并不认为是“变相株连</tspan><tspan x="303" dy="14">”，这是因为未成年犯罪人的父母或者法定监</tspan><tspan x="303" dy="14">护人没有履行好对未成年子女的管教责任，而</tspan><tspan x="303" dy="14">这个责任总是要通过具体的行为来体现的，暂</tspan><tspan x="303" dy="14">且我们把为未成年子女的犯罪代缴罚金看成是</tspan><tspan x="303" dy="14">所负法律责任的体现。笔者认为，罪责自负的</tspan><tspan x="303" dy="14">原则在对自由刑的适用上，是应当也能够做到</tspan><tspan x="303" dy="14">的；但对罚金刑的适用，是无法百分之百地做</tspan><tspan x="303" dy="14">到的。不仅已满14周岁不满18周岁的未成年</tspan><tspan x="303" dy="14">犯罪人的罚金判决，绝大多数都是由其父母代</tspan><tspan x="303" dy="14">缴的，而且许多成年犯罪人的罚金判决，也是</tspan><tspan x="303" dy="14">由其父母或者亲友代缴的，这是一个不争的事</tspan><tspan x="303" dy="14">实。在法律和事实发生冲突时，应当研究如何</tspan><tspan x="303" dy="14">调整法律，使其适应现实。</tspan></text></g>
<g id="b5-3"><rect class="pk" x="297" y="2079" width="229" height="52" rx="5"/><text class="t" x="303" y="2095"><tspan x="303">（3） 人民法院对未成年人犯罪单处罚金，而</tspan><tspan x="303" dy="14">不再对其判处自由刑，从而避免了未成年犯在</tspan><tspan x="303" dy="14">监管场所可能受到的“交*感染”。</tspan></text></g>
<g id="b6"><rect class="pk" x="546" y="2156" width="229" height="79" rx="5"/><text class="t" x="552" y="2171.5"><tspan x="552">基于以上理由，我们认为对未成年人犯罪适用</tspan><tspan x="552" dy="14">罚金，是有积极意义的。那些反对对未成年人</tspan><tspan x="552" dy="14">犯罪适用罚金的观点若成立，只能是又失去了</tspan><tspan x="552" dy="14">一个对未成年人犯罪既有利、又有益的刑罚种</tspan><tspan x="552" dy="14">类。</tspan></text></g>

<g id="c1"><rect class="pk" x="579" y="2261" width="229" height="262" rx="5"/><text class="t" x="585" y="2277"><tspan x="585">1、缓刑。缓刑是指人民法院对被判处拘役、</tspan><tspan x="585" dy="14">3年以下有期徒刑的犯罪分子，根据其犯罪情</tspan><tspan x="585" dy="14">节和悔罪表现，认为暂缓执行原判刑罚，确实</tspan><tspan x="585" dy="14">不致再危害社会的，规定一定的考验期，暂缓</tspan><tspan x="585" dy="14">其刑罚的执行，被宣告缓刑的犯罪分子，在考</tspan><tspan x="585" dy="14">验期内，如果未犯新罪，未发现漏罪，也没有</tspan><tspan x="585" dy="14">违反法律、行政法规或者公安部门有关缓刑的</tspan><tspan x="585" dy="14">监督管理规定，原判刑罚就不再执行的制度。</tspan><tspan x="585" dy="14">笔者认为，缓刑制度是惩办与宽大相结合、惩</tspan><tspan x="585" dy="14">罚与教育改造相结合政策的重要体现，对未成</tspan><tspan x="585" dy="14">年人犯罪适用缓刑有着更积极的意义。被宣告</tspan><tspan x="585" dy="14">缓刑的未成年犯罪人不脱离自己的家庭，仍在</tspan><tspan x="585" dy="14">原所在学校学习和单位工作，对促进未成年犯</tspan><tspan x="585" dy="14">罪人改造、稳定其家庭生活、争取社会同情、</tspan><tspan x="585" dy="14">维护社会安定都有着积极意义。因此，对那些</tspan><tspan x="585" dy="14">犯罪情节较轻并有悔罪表现的未成年犯罪人，</tspan><tspan x="585" dy="14">只要不是累犯，在被判处拘役、3年以下有期</tspan><tspan x="585" dy="14">徒刑的同时，都应考虑予以缓刑。</tspan></text></g>
<g id="c2"><rect class="pk" x="579" y="2547" width="229" height="193" rx="5"/><text class="t" x="585" y="2563.5"><tspan x="585">2、减刑。减刑是指对于被判处管制、拘役、</tspan><tspan x="585" dy="14">有期徒刑或者无期徒刑的犯罪分子，由于其在</tspan><tspan x="585" dy="14">刑罚执行期间认真遵守监规，接受教育改造，</tspan><tspan x="585" dy="14">确有悔改或者立功表现，因而适当减轻其原判</tspan><tspan x="585" dy="14">刑罚的制度。对未成年犯罪人的减刑，最高人</tspan><tspan x="585" dy="14">民法院《关于办理减刑、假释案件具体应用法</tspan><tspan x="585" dy="14">律若干问题的规定》（1997年10月28日）第</tspan><tspan x="585" dy="14">13条规定：对犯罪时未成年的罪犯的减刑，</tspan><tspan x="585" dy="14">在掌握标准上可以比照成年罪犯依法适度放宽</tspan><tspan x="585" dy="14">。未成年罪犯能认罪服法，遵守监规，积极参</tspan><tspan x="585" dy="14">加学习、劳动的，即可视为确有悔改表现予以</tspan><tspan x="585" dy="14">减刑，其减刑的幅度可以适当放宽，间隔的时</tspan><tspan x="585" dy="14">间可以相应缩短。</tspan></text></g>
<g id="c3"><rect class="pk" x="579" y="2774" width="229" height="137" rx="5"/><text class="t" x="585" y="2790.5"><tspan x="585">3、假释。假释是指对于被判处有期徒刑或者</tspan><tspan x="585" dy="14">无期徒刑的犯罪分子，在执行一定刑期之后，</tspan><tspan x="585" dy="14">因其认真遵守监规，接受教育改造，确有悔改</tspan><tspan x="585" dy="14">表现，不致再危害社会，而附条件地将其提前</tspan><tspan x="585" dy="14">释放的制度。对未成年犯罪人的假释，也在最</tspan><tspan x="585" dy="14">高人民法院《关于办理减刑、假释案件具体应</tspan><tspan x="585" dy="14">用法律若干问题的规定》第13条之中：对犯</tspan><tspan x="585" dy="14">罪时未成年的罪犯的假释，符合刑法第81条</tspan><tspan x="585" dy="14">第1款规定的，可以假释。</tspan></text></g>
<g id="c3-1"><rect class="pk" x="329" y="2764" width="229" height="80" rx="5"/><text class="t" x="335" y="2780"><tspan x="335">总之，未成年人犯罪与成年人犯罪在刑事责任</tspan><tspan x="335" dy="14">的认定和刑罚的适用上有着明显的区别，正确</tspan><tspan x="335" dy="14">地认定未成年人犯罪的刑事责任，准确地适用</tspan><tspan x="335" dy="14">刑罚和量刑，体现了我国法律和司法机关对未</tspan><tspan x="335" dy="14">成年人的保护原则。</tspan></text></g>
<g id="c3-2"><rect class="pk" x="493" y="2868" width="65" height="25" rx="5"/><text class="t" x="499" y="2884.5">参考文献：</text></g>
<g id="ref1"><rect class="pk" x="579" y="2935" width="229" height="51" rx="5"/><text class="t" x="585" y="2950.5"><tspan x="585">1、《最高人民法院关于办理未成年人刑事案</tspan><tspan x="585" dy="14">件适用法律的若干问题的解释》，1995年5月</tspan><tspan x="585" dy="14">2日</tspan></text></g>
<g id="ref2"><rect class="pk" x="579" y="3011" width="229" height="38" rx="5"/><text class="t" x="585" y="3027"><tspan x="585">2、佟立华：《未成年人法学》，北京：中国</tspan><tspan x="585" dy="14">民主法制出版社</tspan></text></g>
<g id="ref3"><rect class="pk" x="579" y="3073" width="229" height="38" rx="5"/><text class="t" x="585" y="3089"><tspan x="585">3、谢彤：《未成年人犯罪的定罪与量刑》，</tspan><tspan x="585" dy="14">北京：人民法院出版社</tspan></text></g>
<g id="ref4"><rect class="pk" x="579" y="3136" width="229" height="38" rx="5"/><text class="t" x="585" y="3152"><tspan x="585">4、赵小峰：“对未成年被告人能否适用罚金</tspan><tspan x="585" dy="14">刑”，检察日报，2000年9月21日</tspan></text></g>
</svg>
